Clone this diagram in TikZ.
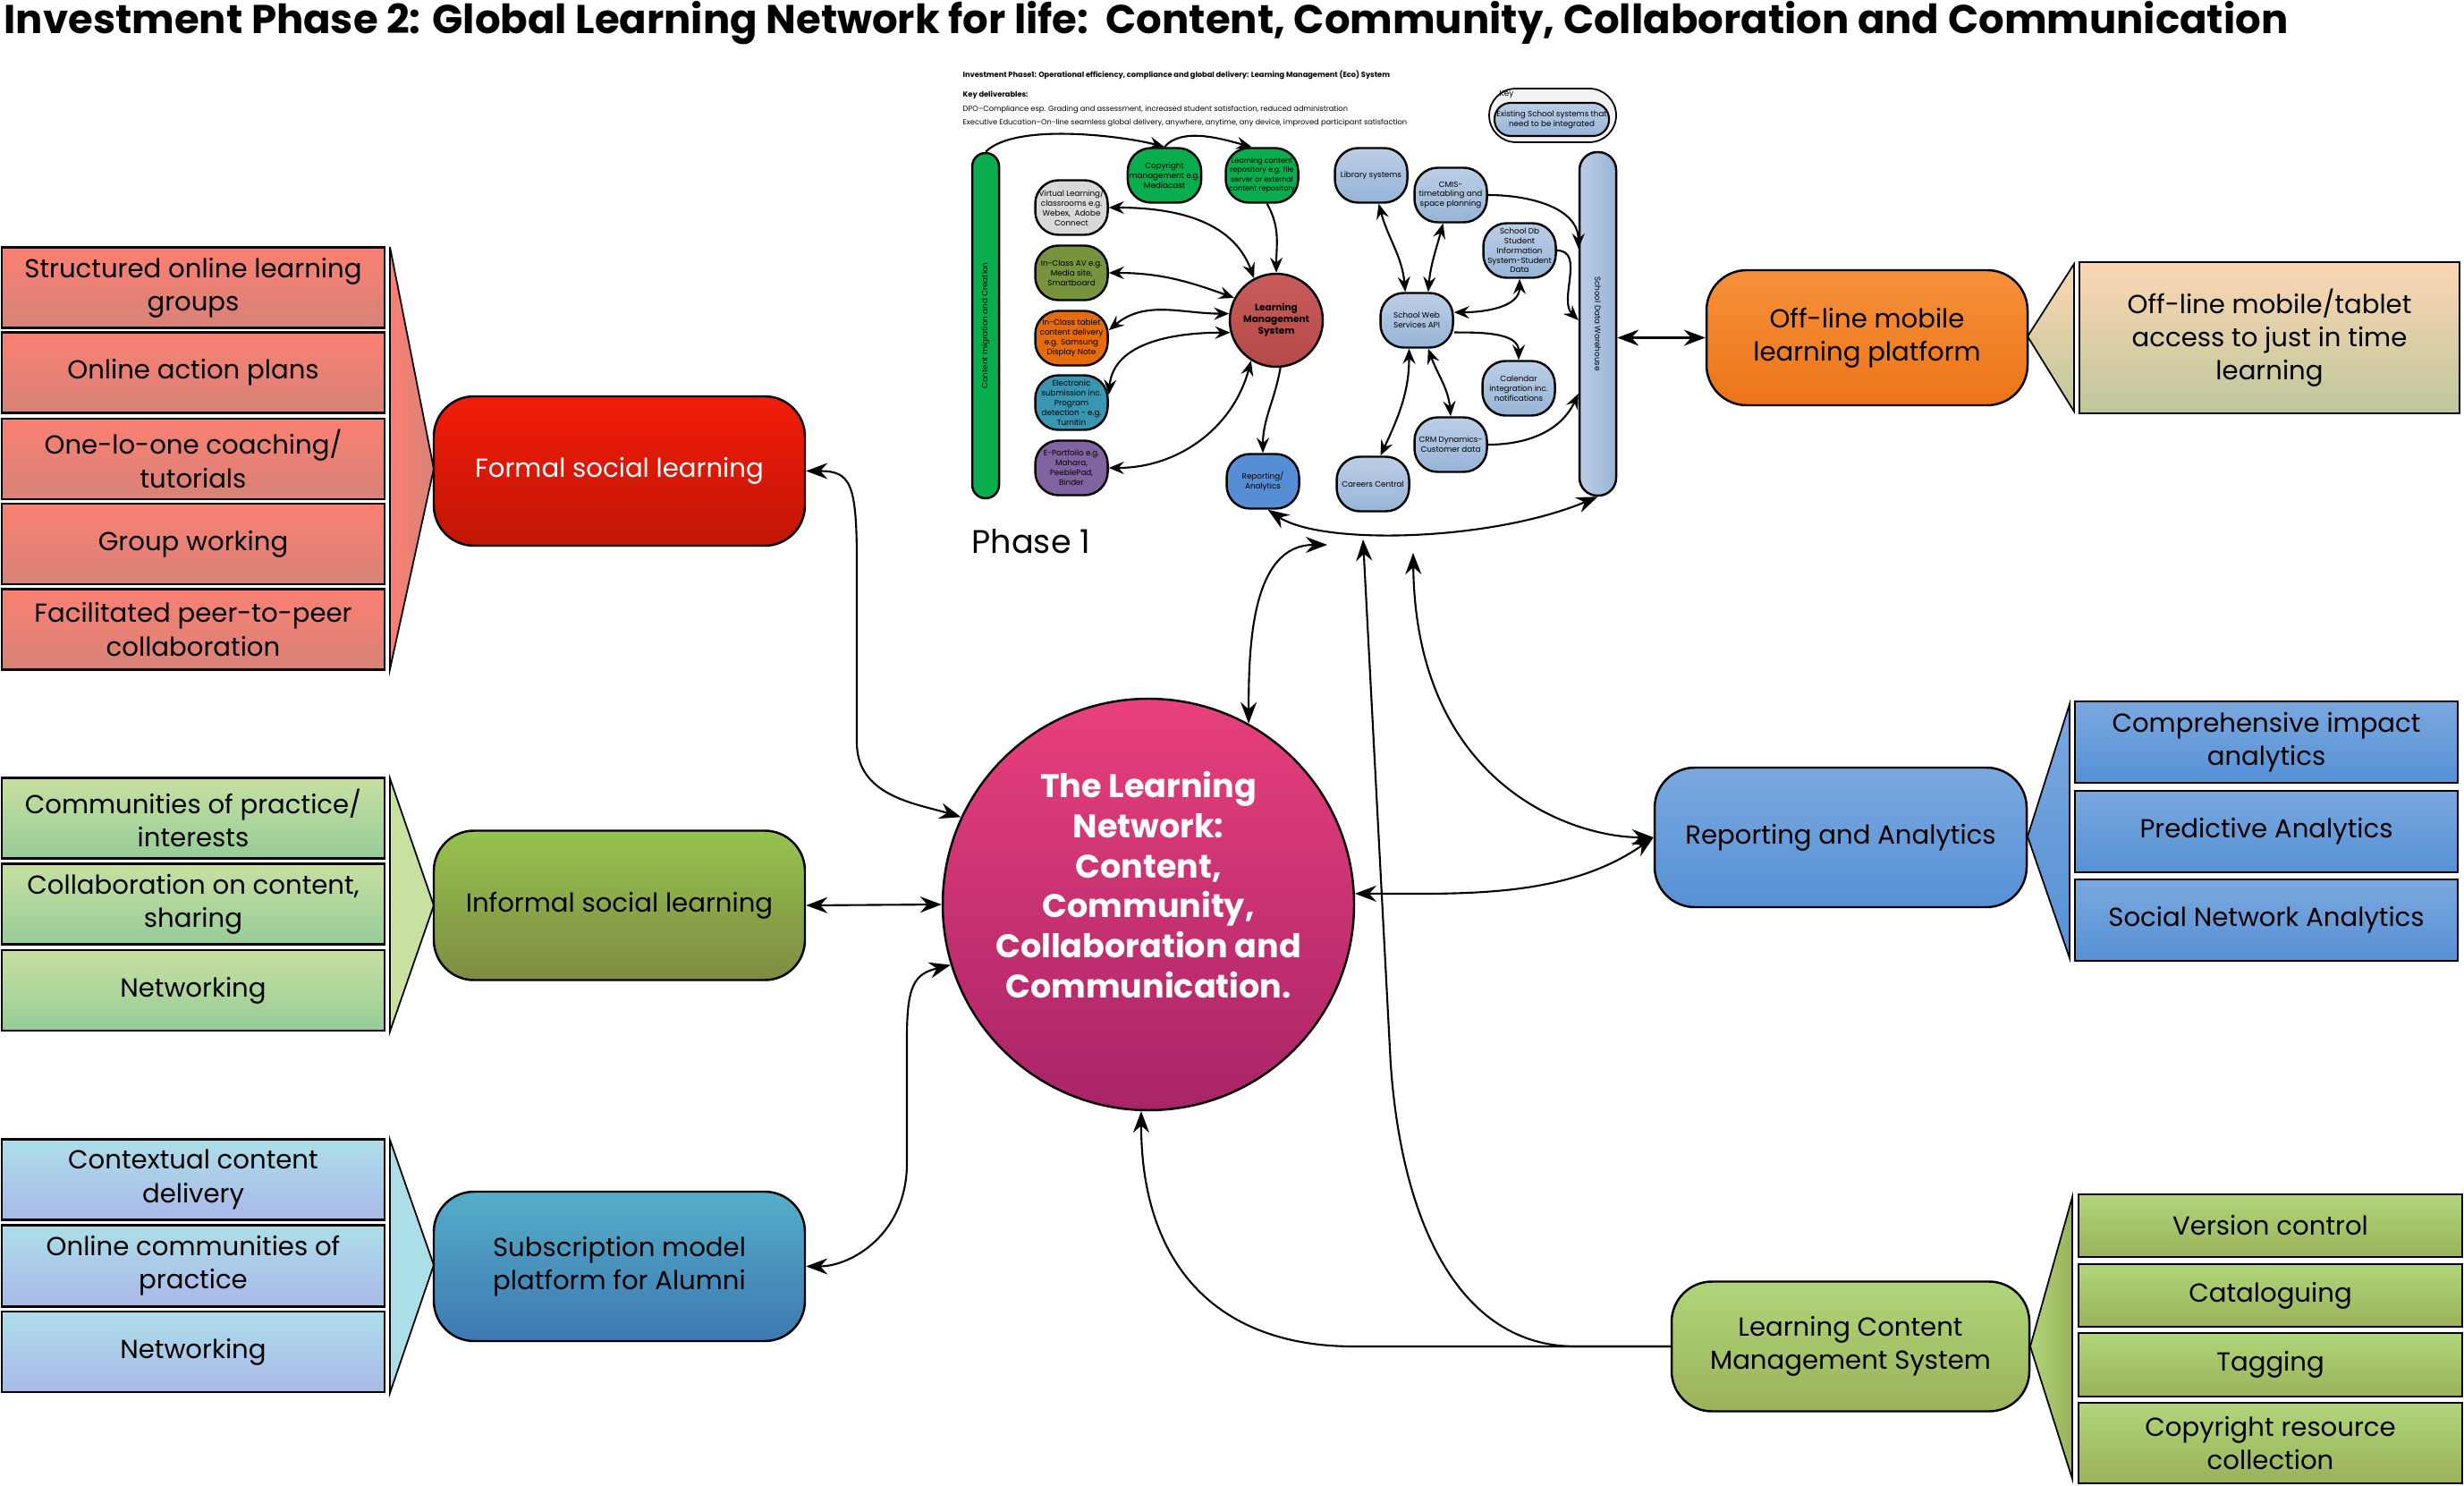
\documentclass[tikz,border=0pt]{standalone}
\usepackage{fontspec}
\setmainfont{Poppins}
\usepackage{tikz}
\usetikzlibrary{calc, arrows.meta, shapes}
\tikzset{>=Stealth}
\newcommand{\mtxt}{\fontsize{8.3}{10.6}\selectfont}
\newcommand{\ptxt}{\fontsize{2.5}{3.1}\selectfont}
\newcommand{\htxt}{\fontsize{2.35}{2.8}\selectfont}
\definecolor{fsltop}{RGB}{242, 28, 10}
\definecolor{fslbot}{RGB}{192, 22, 6}
\definecolor{fitop}{RGB}{250, 128, 114}
\definecolor{fibot}{RGB}{215, 130, 120}
\definecolor{isltop}{RGB}{150, 194, 78}
\definecolor{islbot}{RGB}{126, 140, 66}
\definecolor{iitop}{RGB}{200, 224, 160}
\definecolor{iibot}{RGB}{150, 204, 152}
\definecolor{subtop}{RGB}{84, 174, 200}
\definecolor{subbot}{RGB}{62, 120, 178}
\definecolor{sitop}{RGB}{172, 222, 232}
\definecolor{sibot}{RGB}{170, 184, 232}
\definecolor{nettop}{RGB}{232, 64, 124}
\definecolor{netbot}{RGB}{168, 36, 104}
\definecolor{rnatop}{RGB}{122, 168, 222}
\definecolor{rnabot}{RGB}{86, 145, 214}
\definecolor{offtop}{RGB}{246, 145, 58}
\definecolor{offbot}{RGB}{236, 116, 24}
\definecolor{oitop}{RGB}{252, 214, 180}
\definecolor{oibot}{RGB}{190, 200, 155}
\definecolor{lcmtop}{RGB}{176, 214, 122}
\definecolor{lcmbot}{RGB}{155, 178, 90}
\definecolor{pgreen}{RGB}{10, 173, 78}
\definecolor{pgray}{RGB}{217, 217, 217}
\definecolor{polive}{RGB}{119, 147, 60}
\definecolor{porange}{RGB}{228, 108, 10}
\definecolor{pteal}{RGB}{56, 150, 176}
\definecolor{ppurple}{RGB}{128, 100, 162}
\definecolor{lmstop}{RGB}{200, 92, 90}
\definecolor{lmsbot}{RGB}{180, 74, 72}
\definecolor{prep}{RGB}{85, 142, 213}
\definecolor{systop}{RGB}{188, 206, 230}
\definecolor{sysbot}{RGB}{150, 180, 215}
\definecolor{keygray}{RGB}{242, 242, 242}
\tikzset{
  mainbox/.style={draw, line width=0.7pt, rounded corners=4.5mm, minimum width=4.15cm, minimum height=1.67cm, align=center, font=\mtxt},
  itembox/.style={draw, line width=0.8pt, minimum width=4.28cm, minimum height=0.90cm, align=center, font=\mtxt},
  pnode/.style={draw, line width=0.7pt, rounded corners=2.6mm, minimum width=0.81cm, minimum height=0.61cm, inner sep=0.5pt, align=center, font=\ptxt},
  sysnode/.style={pnode, top color=systop, bottom color=sysbot},
  link/.style={line width=0.6pt, >={Stealth[length=2.4mm, width=1.8mm, inset=0.8mm]}},
  plink/.style={line width=0.6pt, >={Stealth[length=1.7mm, width=1.4mm, inset=0.6mm]}}
}

\begin{document}
\begin{tikzpicture}

\useasboundingbox (0,0) rectangle (27.55,-16.61);

\node[anchor=base west, inner sep=0] (title) at (0.04,-0.38) {\fontsize{12.8}{15}\selectfont\bfseries Investment Phase 2: Global Learning Network for life:\ \ Content, Community, Collaboration and Communication};

% formal social learning
\begin{scope}
\draw[line width=0.5pt, left color=fitop, right color=fibot] (4.36,-2.76) -- (4.85,-5.24) -- (4.36,-7.48) -- cycle;
\node[itembox, top color=fitop, bottom color=fibot] (f1) at (2.16,-3.215) {Structured online learning\\groups};
\node[itembox, top color=fitop, bottom color=fibot] (f2) at (2.16,-4.165) {Online action plans};
\node[itembox, top color=fitop, bottom color=fibot] (f3) at (2.16,-5.13) {One-lo-one coaching/\\tutorials};
\node[itembox, top color=fitop, bottom color=fibot] (f4) at (2.16,-6.08) {Group working};
\node[itembox, top color=fitop, bottom color=fibot] (f5) at (2.16,-7.035) {Facilitated peer-to-peer\\collaboration};
\node[mainbox, top color=fsltop, bottom color=fslbot, text=white] (fsl) at (6.925,-5.265) {Formal social learning};
\end{scope}

% informal social learning
\begin{scope}
\draw[line width=0.5pt, fill=iitop] (4.36,-8.70) -- (4.85,-10.12) -- (4.36,-11.53) -- cycle;
\node[itembox, top color=iitop, bottom color=iibot] (i1) at (2.16,-9.145) {Communities of practice/\\interests};
\node[itembox, top color=iitop, bottom color=iibot] (i2) at (2.16,-10.105) {Collaboration on content,\\sharing};
\node[itembox, top color=iitop, bottom color=iibot] (i3) at (2.16,-11.07) {Networking};
\node[mainbox, top color=isltop, bottom color=islbot] (isl) at (6.925,-10.12) {Informal social learning};
\end{scope}

% alumni
\begin{scope}
\draw[line width=0.5pt, fill=sitop] (4.36,-12.74) -- (4.85,-14.14) -- (4.36,-15.57) -- cycle;
\node[itembox, top color=sitop, bottom color=sibot] (s1) at (2.16,-13.185) {Contextual content\\delivery};
\node[itembox, top color=sitop, bottom color=sibot] (s2) at (2.16,-14.15) {Online communities of\\practice};
\node[itembox, top color=sitop, bottom color=sibot] (s3) at (2.16,-15.11) {Networking};
\node[mainbox, top color=subtop, bottom color=subbot] (sub) at (6.925,-14.155) {Subscription model\\platform for Alumni};
\end{scope}

\node[circle, draw, line width=0.7pt, minimum size=4.6cm, top color=nettop, bottom color=netbot] (net) at (12.84,-10.11) {};
\node[text=white, align=center, font=\fontsize{10.4}{12.8}\selectfont\bfseries] (nettxt) at (12.84,-9.89) {The Learning\\Network:\\Content,\\Community,\\Collaboration and\\Communication.};

% reporting
\begin{scope}
\draw[line width=0.5pt, top color=rnatop, bottom color=rnabot] (23.14,-7.87) -- (22.67,-9.35) -- (23.14,-10.71) -- cycle;
\node[itembox, top color=rnatop, bottom color=rnabot, minimum height=0.91cm] (r1) at (25.34,-8.295) {Comprehensive impact\\analytics};
\node[itembox, top color=rnatop, bottom color=rnabot, minimum height=0.91cm] (r2) at (25.34,-9.295) {Predictive Analytics};
\node[itembox, top color=rnatop, bottom color=rnabot, minimum height=0.91cm] (r3) at (25.34,-10.285) {Social Network Analytics};
\node[mainbox, top color=rnatop, bottom color=rnabot, minimum width=4.16cm, minimum height=1.56cm] (rna) at (20.58,-9.36) {Reporting and Analytics};
\end{scope}

% off-line
\begin{scope}
\draw[line width=0.5pt, top color=oitop, bottom color=oibot] (23.19,-2.95) -- (22.67,-3.76) -- (23.19,-4.60) -- cycle;
\node[itembox, top color=oitop, bottom color=oibot, minimum width=4.25cm, minimum height=1.69cm] (offi) at (25.375,-3.775) {Off-line mobile/tablet\\access to just in time\\learning};
\node[mainbox, top color=offtop, bottom color=offbot, minimum width=3.59cm, minimum height=1.51cm] (off) at (20.875,-3.775) {Off-line mobile\\learning platform};
\end{scope}

% content management
\begin{scope}
\draw[line width=0.5pt, left color=lcmtop, right color=lcmbot] (23.17,-13.38) -- (22.70,-15.05) -- (23.17,-16.53) -- cycle;
\node[itembox, top color=lcmtop, bottom color=lcmbot, minimum width=4.29cm, minimum height=0.70cm] (c1) at (25.385,-13.70) {Version control};
\node[itembox, top color=lcmtop, bottom color=lcmbot, minimum width=4.29cm, minimum height=0.70cm] (c2) at (25.385,-14.48) {Cataloguing};
\node[itembox, top color=lcmtop, bottom color=lcmbot, minimum width=4.29cm, minimum height=0.71cm] (c3) at (25.385,-15.255) {Tagging};
\node[itembox, top color=lcmtop, bottom color=lcmbot, minimum width=4.29cm, minimum height=0.90cm] (c4) at (25.385,-16.13) {Copyright resource\\collection};
\node[mainbox, top color=lcmtop, bottom color=lcmbot, minimum width=4.0cm, minimum height=1.45cm] (lcms) at (20.69,-15.05) {Learning Content\\Management System};
\end{scope}

% phase 1
\begin{scope}
\node[anchor=west, inner sep=0, font=\htxt\bfseries] (h1) at (10.76,-0.84) {Investment Phase1: Operational efficiency, compliance and global delivery: Learning Management (Eco) System};
\node[anchor=west, inner sep=0, font=\htxt\bfseries] (h2) at (10.76,-1.06) {Key deliverables:};
\node[anchor=west, inner sep=0, font=\htxt] (h3) at (10.76,-1.22) {DPO–Compliance esp. Grading and assessment, increased student satisfaction, reduced administration};
\node[anchor=west, inner sep=0, font=\htxt] (h4) at (10.76,-1.37) {Executive Education–On-line seamless global delivery, anywhere, anytime, any device, improved participant satisfaction};

\node[draw, line width=0.5pt, rounded corners=3mm, fill=keygray, minimum width=1.42cm, minimum height=0.60cm] (key) at (17.36,-1.29) {};
\node[draw, line width=0.6pt, rounded corners=1.8mm, top color=systop, bottom color=sysbot, minimum width=1.28cm, minimum height=0.37cm, inner sep=0.5pt, align=center, font=\ptxt] (keyitem) at (17.35,-1.335) {Existing School systems that\\need to be integrated};
\node[anchor=west, inner sep=0, font=\ptxt] (keylbl) at (16.76,-1.06) {Key};

\node[draw, line width=0.7pt, fill=pgreen, rounded corners=1.5mm, minimum width=0.30cm, minimum height=3.86cm] (gbar) at (11.02,-3.64) {};
\node[rotate=90, font=\ptxt] (gbartxt) at (gbar) {Content migration and Creation};
\node[pnode, fill=pgreen] (cpy) at (13.02,-1.96) {Copyright\\management e.g.\\Mediacast};
\node[pnode, fill=pgreen, font=\fontsize{2.3}{2.9}\selectfont] (lcr) at (14.11,-1.96) {Learning content\\repository e.g. file\\server or external\\content repository};
\node[pnode, fill=pgray] (vl) at (11.98,-2.32) {Virtual Learning/\\classrooms e.g.\\Webex,\ \ Adobe\\Connect};
\node[pnode, fill=polive] (av) at (11.98,-3.05) {In-Class AV e.g.\\Media site,\\Smartboard};
\node[pnode, fill=porange] (tab) at (11.98,-3.78) {In-Class tablet\\content delivery\\e.g. Samsung\\Display Note};
\node[pnode, fill=pteal] (esub) at (11.98,-4.50) {Electronic\\submission inc.\\Program\\detection - e.g.\\Turnitin};
\node[pnode, fill=ppurple] (epf) at (11.98,-5.23) {E-Portfolio e.g.\\Mahara,\\PeeblePad,\\Binder};
\node[circle, draw, line width=0.7pt, minimum size=1.04cm, inner sep=0, top color=lmstop, bottom color=lmsbot, align=center, font=\fontsize{3}{3.7}\selectfont\bfseries] (lms) at (14.27,-3.58) {Learning\\Management\\System};
\node[pnode, fill=prep] (rep) at (14.12,-5.38) {Reporting/\\Analytics};

\node[sysnode] (lib) at (15.33,-1.96) {Library systems};
\node[sysnode] (cmis) at (16.22,-2.18) {CMIS-\\timetabling and\\space planning};
\node[sysnode] (sdb) at (16.99,-2.80) {School Db\\Student\\Information\\System-Student\\Data};
\node[sysnode] (sws) at (15.84,-3.58) {School Web\\Services API};
\node[sysnode] (cal) at (16.98,-4.34) {Calendar\\integration inc.\\notifications};
\node[sysnode] (crm) at (16.22,-4.97) {CRM Dynamics-\\Customer data};
\node[sysnode] (car) at (15.35,-5.41) {Careers Central};
\node[draw, line width=0.7pt, left color=systop, right color=sysbot, rounded corners=2mm, minimum width=0.41cm, minimum height=3.84cm] (wh) at (17.865,-3.62) {};
\node[rotate=-90, font=\ptxt] (whtxt) at (wh) {School Data Warehouse};

\node[anchor=west, inner sep=0, font=\fontsize{10.4}{12}\selectfont] (ph1) at (10.86,-6.05) {Phase 1};

\draw[plink, ->] (gbar.north) to[out=45, in=165, looseness=0.6] (cpy.north);
\draw[plink, ->] (cpy.north) to[out=50, in=165, looseness=0.8] (lcr.110);
\draw[plink, ->] (lcr.-80) to[out=-60, in=90] (lms.north);
\draw[plink, <->] (vl.east) to[out=0, in=110] (lms.118);
\draw[plink, <->] (av.east) to[out=0, in=160] (lms.152);
\draw[plink, <->] (tab.12) to[out=40, in=180] (lms.172);
\draw[plink, <->] (esub.12) to[out=85, in=180] (lms.195);
\draw[plink, <->] (epf.east) to[out=0, in=-105] (lms.238);
\draw[plink, ->] (lms.-85) to[out=-100, in=90] (rep.north);

\draw[plink, <->] (lib.-75) to[out=-75, in=95] (sws.112);
\draw[plink, <->] (cmis.-105) to[out=-105, in=85] (sws.68);
\draw[plink, <->] (sws.12) to[out=0, in=-90] (sdb.south);
\draw[plink, ->] (sws.-18) to[out=0, in=90] (cal.north);
\draw[plink, <->] (sws.-68) to[out=-70, in=95] (crm.north);
\draw[plink, <->] (sws.-105) to[out=-90, in=65] (car.75);
\draw[plink, ->] (cmis.east) to[out=0, in=90] ([yshift=8.4mm]wh.west);
\draw[plink, ->] (sdb.east) to[out=0, in=135] ([yshift=0.4mm]wh.west);
\draw[plink, ->] (crm.east) to[out=0, in=-115] ([yshift=-7.8mm]wh.west);
\end{scope}

\draw[link, <->] (wh.east |- off.west) -- (off.west);
\draw[link, <->] (rep.-80) .. controls +(0.6,-0.4) and +(-1.2,-0.5) .. (wh.south);

% links to the network
\coordinate (p1a) at (14.84,-6.09);
\coordinate (p1b) at (15.24,-6.03);
\coordinate (p1c) at (15.80,-6.18);
\draw[link, <->] (net.61) to[out=90, in=180] (p1a);
\draw[link, ->] (lcms.west) -- ++(-1.06,0) .. controls +(-1.3,0) and +(0.12,-1.8) .. ++(-2.07,3.18) -- (p1b);
\draw[link, ->] (lcms.west) -- ++(-3.54,0) .. controls +(-1.55,0) and +(0,-1.7) .. (net.268);
\draw[link, <->] (p1c) .. controls +(0.03,-2.6) and +(-0.9,0) .. (rna.west);
\draw[link, <->] (net.3) to[out=0, in=-145, looseness=0.9] (rna.west);
\draw[link, <->] (fsl.east) .. controls +(0.5,0) and +(0,0.9) .. (9.58,-6.3) -- (9.58,-8.3) .. controls +(0,-0.6) and +(-0.5,0.15) .. (net.155);
\draw[link, <->] (isl.east) -- (net.west);
\draw[link, <->] (sub.east) .. controls +(0.5,0) and +(0,-0.8) .. (10.14,-13.0) -- (10.14,-11.6) .. controls +(0,0.6) and +(-0.4,-0.1) .. (net.197);

\end{tikzpicture}
\end{document}
